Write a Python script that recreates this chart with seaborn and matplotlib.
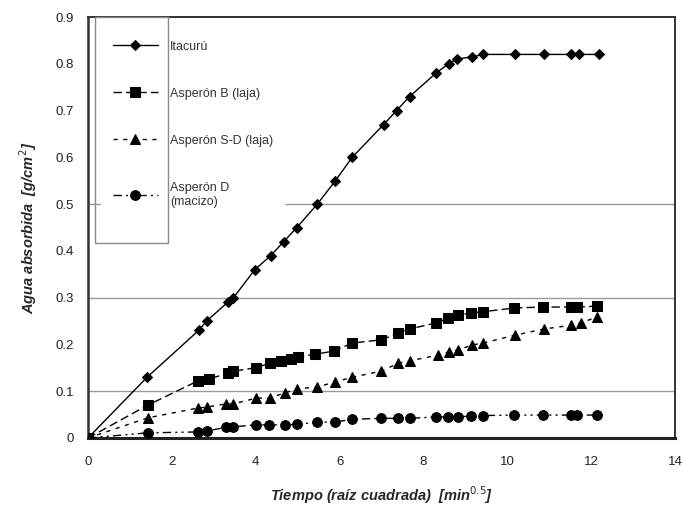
import matplotlib
matplotlib.use('Agg')
import matplotlib.pyplot as plt
from matplotlib.patches import Rectangle
import pandas as pd
import seaborn as sns

# raiz cuadrada del tiempo (min^0.5) y agua absorbida (g/cm2)
x_itacuru = [0, 1.41, 2.64, 2.83, 3.33, 3.47, 3.98, 4.36, 4.67, 4.98, 5.47, 5.9, 6.3,
             7.05, 7.36, 7.67, 8.3, 8.6, 8.8, 9.17, 9.43, 10.19, 10.87, 11.53, 11.72, 12.19]
y_itacuru = [0, 0.13, 0.23, 0.25, 0.29, 0.30, 0.36, 0.39, 0.42, 0.45, 0.50, 0.55, 0.60,
             0.67, 0.70, 0.73, 0.78, 0.80, 0.81, 0.815, 0.82, 0.82, 0.82, 0.82, 0.82, 0.82]

x_asp_b = [0, 1.42, 2.62, 2.88, 3.35, 3.47, 4.0, 4.34, 4.6, 4.83, 5.0, 5.42, 5.87, 6.3,
           7.0, 7.4, 7.67, 8.3, 8.58, 8.82, 9.13, 9.43, 10.17, 10.85, 11.53, 11.67, 12.15]
y_asp_b = [0, 0.07, 0.122, 0.126, 0.139, 0.143, 0.15, 0.16, 0.165, 0.169, 0.173, 0.179,
           0.186, 0.203, 0.21, 0.224, 0.233, 0.246, 0.256, 0.263, 0.267, 0.27, 0.278,
           0.28, 0.28, 0.28, 0.282]

x_asp_sd = [0, 1.42, 2.62, 2.83, 3.3, 3.47, 4.0, 4.34, 4.69, 4.98, 5.47, 5.9, 6.3,
            7.0, 7.4, 7.67, 8.35, 8.6, 8.82, 9.17, 9.43, 10.19, 10.87, 11.53, 11.75, 12.15]
y_asp_sd = [0, 0.043, 0.064, 0.066, 0.073, 0.073, 0.085, 0.086, 0.096, 0.105, 0.109,
            0.12, 0.13, 0.143, 0.16, 0.165, 0.177, 0.184, 0.188, 0.199, 0.203, 0.22,
            0.233, 0.241, 0.246, 0.259]

x_asp_d = [0, 1.42, 2.62, 2.83, 3.3, 3.47, 4.0, 4.32, 4.69, 4.98, 5.47, 5.9, 6.3,
           7.0, 7.4, 7.67, 8.3, 8.58, 8.82, 9.13, 9.43, 10.17, 10.85, 11.53, 11.67, 12.15]
y_asp_d = [0, 0.011, 0.013, 0.015, 0.023, 0.024, 0.028, 0.028, 0.028, 0.029, 0.034,
           0.034, 0.04, 0.042, 0.042, 0.042, 0.045, 0.045, 0.045, 0.047, 0.048, 0.049,
           0.049, 0.049, 0.049, 0.049]

sns.set_style('white')
plt.rcParams['font.family'] = ['Liberation Sans', 'DejaVu Sans']

fig = plt.figure(figsize=(6.83, 5.14), dpi=100)
ax = fig.add_axes([88 / 683, 1 - 438 / 514, 587 / 683, 421 / 514])

series = [
    ('Itacurú', x_itacuru, y_itacuru, 'D', '-', 5.5),
    ('Asperón B (laja)', x_asp_b, y_asp_b, 's', (0, (6, 3)), 6.5),
    ('Asperón S-D (laja)', x_asp_sd, y_asp_sd, '^', (0, (3, 4)), 7),
    ('Asperón D\n(macizo)', x_asp_d, y_asp_d, 'o', (0, (6, 3, 1.5, 3, 1.5, 3)), 7),
]
for label, xs, ys, mk, ls, ms in series:
    df = pd.DataFrame({'x': xs, 'y': ys})
    sns.lineplot(data=df, x='x', y='y', ax=ax, color='black', marker=mk,
                 markersize=ms, markeredgecolor='black', linewidth=1.0,
                 linestyle=ls, estimator=None, sort=False, label=label,
                 zorder=3)

for g in [0.1, 0.3, 0.5]:
    ax.axhline(g, color='#9a9a9a', linewidth=1.0, zorder=1)

ax.set_xlim(0, 14)
ax.set_ylim(0, 0.9)
ax.set_xticks(range(0, 15, 2))
ax.set_yticks([i / 10 for i in range(10)])
ax.set_yticklabels(['0'] + [f'0.{i}' for i in range(1, 10)])
ax.tick_params(axis='both', labelsize=9.5, colors='#222222', length=4, width=1,
               direction='out', pad=6)
ax.tick_params(axis='x', pad=9)

for side, sp in ax.spines.items():
    sp.set_color('#333333')
    sp.set_linewidth(1.4)
ax.spines['bottom'].set_linewidth(2.2)
ax.spines['bottom'].set_color('#222222')
ax.spines['left'].set_linewidth(1.8)

ax.set_xlabel('Tiempo (raíz cuadrada)  [min$^{0.5}$]', fontsize=10.5,
              fontstyle='italic', fontweight='bold', labelpad=12)
ax.set_ylabel('Agua absorbida  [g/cm$^{2}$]', fontsize=10.5,
              fontstyle='italic', fontweight='bold', labelpad=12)

leg = ax.legend(loc='upper left', bbox_to_anchor=(0.012, 0.985), fontsize=9,
                labelspacing=2.8, handlelength=3.6, handletextpad=1.0,
                frameon=True, fancybox=False, framealpha=1, borderpad=0.9)
leg.get_frame().set_edgecolor('white')
leg.set_zorder(5)
for t in leg.get_texts():
    t.set_color('#333333')

ax.add_patch(Rectangle((0.012, 0.463), 0.124, 0.537, transform=ax.transAxes,
                       fill=False, edgecolor='#8a8a8a', linewidth=1.0,
                       zorder=6, clip_on=False))

fig.savefig('out.png', dpi=100)
